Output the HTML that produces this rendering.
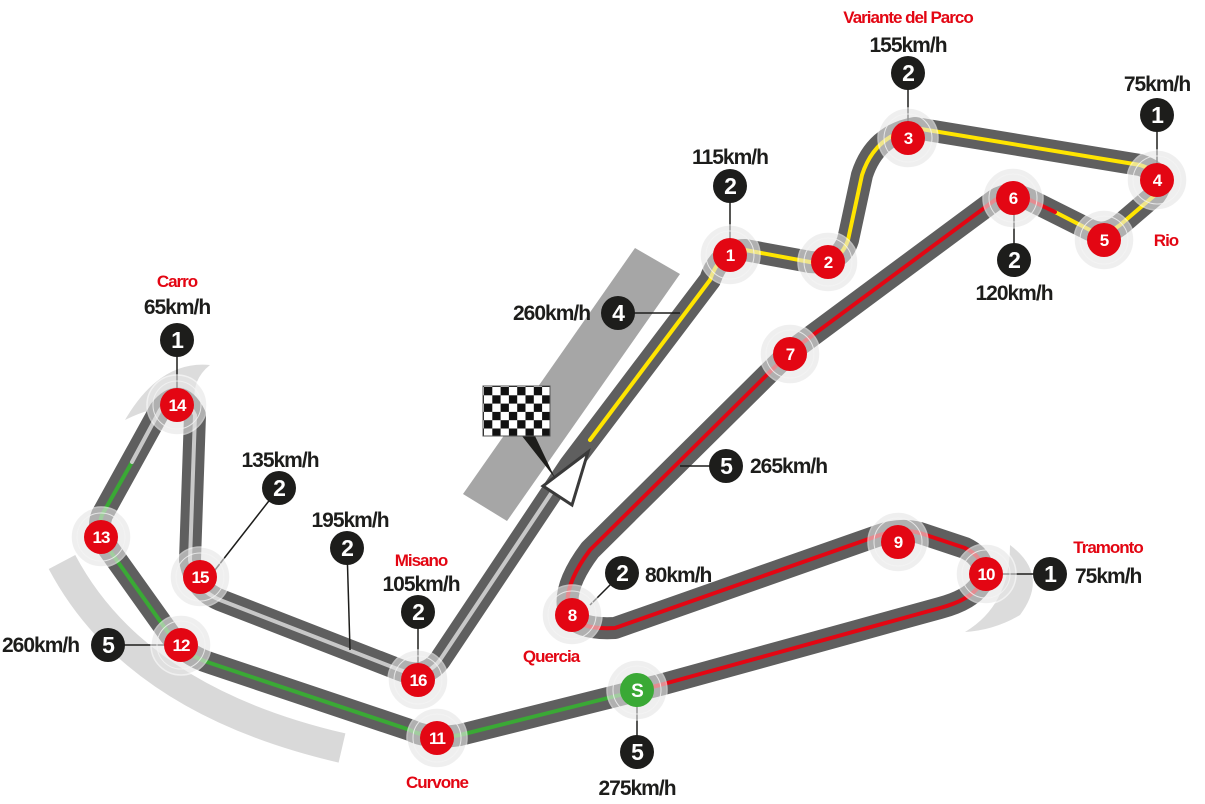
<!DOCTYPE html>
<html><head><meta charset="utf-8"><style>
html,body{margin:0;padding:0;background:#fff;}
svg{display:block;}
text{font-family:"Liberation Sans",sans-serif;font-weight:bold;letter-spacing:-1px;}
.lb{font-size:21px;fill:#1d1d1b;}
.rl{font-size:17px;fill:#e30613;}
.nt{font-size:17px;fill:#fff;text-anchor:middle;}
.gt{font-size:23px;fill:#fff;text-anchor:middle;}
</style></head><body>
<svg width="1205" height="804" viewBox="0 0 1205 804" xmlns="http://www.w3.org/2000/svg">
<defs>
<pattern id="chk" x="484" y="387" width="16.6" height="16.6" patternUnits="userSpaceOnUse">
<rect width="16.6" height="16.6" fill="#fff"/>
<rect width="8.3" height="8.3" fill="#111"/>
<rect x="8.3" y="8.3" width="8.3" height="8.3" fill="#111"/>
</pattern>
</defs>
<polygon points="635,248 680,274 507,521 463,494" fill="#a6a6a6"/>
<path d="M62 562 Q135 700 342 748" stroke="#d9d9d9" stroke-width="30" fill="none"/>
<path d="M125 420 Q160 360 210 365 Q185 385 200 420 Q175 395 125 420Z" fill="#dcdcdc"/>
<path d="M1010 545 Q1050 575 1020 615 Q995 630 965 632 Q1010 605 1010 545Z" fill="#dcdcdc"/>
<g fill="none" stroke-linejoin="round" stroke-linecap="round">
<path d="M570 465 L710 280 Q720 250 745 250 L810 262 Q840 265 848 240 L862 175 Q875 135 915 128 L1140 165 Q1170 175 1155 195 L1120 225 Q1105 237 1090 230 L1030 200 Q1010 190 995 200 L790 352 L590 550 Q560 590 570 615 Q580 630 615 628 L880 535 Q900 528 920 533 L965 548 Q990 560 980 585 Q970 600 940 608 L660 685 L460 735 Q430 740 410 730 L210 663 Q185 655 170 635 L108 548 Q96 530 102 515 L160 410 Q180 385 195 415 L190 560 Q195 590 220 600 L400 670 Q425 680 440 660 L570 465" stroke="#5f5f5f" stroke-width="22"/>
<path d="M590 440 L710 280 Q720 250 745 250 L810 262 Q840 265 848 240 L862 175 Q875 135 915 128 L1140 165 Q1170 175 1155 195 L1120 225 Q1105 237 1090 230 L1055 212" stroke="#ffe500" stroke-width="4"/>
<path d="M1055 212 L1030 200 Q1010 190 995 200 L790 352 L590 550 Q560 590 570 615 Q580 630 615 628 L880 535 Q900 528 920 533 L965 548 Q990 560 980 585 Q970 600 940 608 L660 685 L640 690" stroke="#e30613" stroke-width="4"/>
<path d="M640 690 L460 735 Q430 740 410 730 L210 663 Q185 655 170 635 L108 548 Q96 530 102 515 L132 462" stroke="#3aa935" stroke-width="4"/>
<path d="M132 462 L160 410 Q180 385 195 415 L190 560 Q195 590 220 600 L400 670 Q425 680 440 660 L560 480" stroke="#c8c8c8" stroke-width="4"/>
</g>
<polygon points="588,452 572,505 543,486" fill="#fff" stroke="#3a3a3a" stroke-width="3"/>
<polygon points="522,436 535,436 555,478" fill="#1d1d1b"/>
<rect x="483" y="386" width="67" height="50" fill="url(#chk)" stroke="#555" stroke-width="1"/>
<g stroke="#1d1d1b" stroke-width="1.5">
<line x1="177" y1="340" x2="177" y2="390"/><line x1="908" y1="73" x2="908" y2="125"/>
<line x1="1157" y1="115" x2="1157" y2="166"/><line x1="730" y1="186" x2="730" y2="240"/>
<line x1="1014" y1="260" x2="1014" y2="212"/><line x1="618" y1="313" x2="680" y2="313"/>
<line x1="726" y1="466" x2="680" y2="466"/><line x1="622" y1="573" x2="590" y2="605"/>
<line x1="279" y1="488" x2="215" y2="570"/><line x1="347" y1="548" x2="350" y2="650"/>
<line x1="418" y1="612" x2="418" y2="665"/><line x1="1050" y1="574" x2="1003" y2="574"/>
<line x1="108" y1="645" x2="166" y2="645"/><line x1="637" y1="752" x2="637" y2="706"/>
</g>
<g>
<g fill="#e6e6e6" opacity="0.6" stroke="#fff" stroke-width="1.5">
<circle cx="730" cy="255" r="30"/><circle cx="828" cy="262" r="30"/><circle cx="908" cy="138" r="30"/><circle cx="1157" cy="180" r="30"/><circle cx="1104" cy="240" r="30"/><circle cx="1013" cy="198" r="30"/><circle cx="790" cy="354" r="30"/><circle cx="572" cy="615" r="30"/><circle cx="898" cy="542" r="30"/><circle cx="986" cy="574" r="30"/><circle cx="637" cy="690" r="30"/><circle cx="437" cy="738" r="30"/><circle cx="181" cy="645" r="30"/><circle cx="101" cy="537" r="30"/><circle cx="177" cy="405" r="30"/><circle cx="200" cy="577" r="30"/><circle cx="418" cy="680" r="30"/>
</g>
<g fill="none" stroke="#f4f4f4" stroke-width="1" opacity="0.8">
<circle cx="730" cy="255" r="24"/><circle cx="828" cy="262" r="24"/><circle cx="908" cy="138" r="24"/><circle cx="1157" cy="180" r="24"/><circle cx="1104" cy="240" r="24"/><circle cx="1013" cy="198" r="24"/><circle cx="790" cy="354" r="24"/><circle cx="572" cy="615" r="24"/><circle cx="898" cy="542" r="24"/><circle cx="986" cy="574" r="24"/><circle cx="637" cy="690" r="24"/><circle cx="437" cy="738" r="24"/><circle cx="181" cy="645" r="24"/><circle cx="101" cy="537" r="24"/><circle cx="177" cy="405" r="24"/><circle cx="200" cy="577" r="24"/><circle cx="418" cy="680" r="24"/>
</g>
<g fill="#e30613">
<circle cx="730" cy="255" r="17"/><circle cx="828" cy="262" r="17"/><circle cx="908" cy="138" r="17"/><circle cx="1157" cy="180" r="17"/><circle cx="1104" cy="240" r="17"/><circle cx="1013" cy="198" r="17"/><circle cx="790" cy="354" r="17"/><circle cx="572" cy="615" r="17"/><circle cx="898" cy="542" r="17"/><circle cx="986" cy="574" r="17"/><circle cx="437" cy="738" r="17"/><circle cx="181" cy="645" r="17"/><circle cx="101" cy="537" r="17"/><circle cx="177" cy="405" r="17"/><circle cx="200" cy="577" r="17"/><circle cx="418" cy="680" r="17"/>
</g>
<circle cx="637" cy="690" r="17" fill="#3aa935"/>
<text class="nt" x="730" y="261">1</text><text class="nt" x="828" y="268">2</text><text class="nt" x="908" y="144">3</text><text class="nt" x="1157" y="186">4</text><text class="nt" x="1104" y="246">5</text><text class="nt" x="1013" y="204">6</text><text class="nt" x="790" y="360">7</text><text class="nt" x="572" y="621">8</text><text class="nt" x="898" y="548">9</text><text class="nt" x="986" y="580">10</text><text class="nt" x="637" y="697" style="font-size:19px">S</text><text class="nt" x="437" y="744">11</text><text class="nt" x="181" y="651">12</text><text class="nt" x="101" y="543">13</text><text class="nt" x="177" y="411">14</text><text class="nt" x="200" y="583">15</text><text class="nt" x="418" y="686">16</text>
</g>
<g fill="#1d1d1b">
<circle cx="177" cy="340" r="17"/><circle cx="908" cy="73" r="17"/><circle cx="1157" cy="115" r="17"/><circle cx="730" cy="186" r="17"/><circle cx="1014" cy="260" r="17"/><circle cx="618" cy="313" r="17"/><circle cx="726" cy="466" r="17"/><circle cx="622" cy="573" r="17"/><circle cx="279" cy="488" r="17"/><circle cx="347" cy="548" r="17"/><circle cx="418" cy="612" r="17"/><circle cx="1050" cy="574" r="17"/><circle cx="108" cy="645" r="17"/><circle cx="637" cy="752" r="17"/>
</g>
<text class="gt" x="177" y="348">1</text><text class="gt" x="908" y="81">2</text><text class="gt" x="1157" y="123">1</text><text class="gt" x="730" y="194">2</text><text class="gt" x="1014" y="268">2</text><text class="gt" x="618" y="321">4</text><text class="gt" x="726" y="474">5</text><text class="gt" x="622" y="581">2</text><text class="gt" x="279" y="496">2</text><text class="gt" x="347" y="556">2</text><text class="gt" x="418" y="620">2</text><text class="gt" x="1050" y="582">1</text><text class="gt" x="108" y="653">5</text><text class="gt" x="637" y="760">5</text>
<g class="lb" text-anchor="middle">
<text x="908" y="52">155km/h</text><text x="1157" y="91">75km/h</text><text x="730" y="164">115km/h</text><text x="1014" y="300">120km/h</text><text x="421" y="591">105km/h</text><text x="350" y="527">195km/h</text><text x="280" y="467">135km/h</text><text x="177" y="314">65km/h</text><text x="637" y="795">275km/h</text>
</g>
<g class="lb">
<text x="513" y="320">260km/h</text><text x="750" y="473">265km/h</text><text x="645" y="582">80km/h</text><text x="1075" y="583">75km/h</text><text x="2" y="652">260km/h</text>
</g>
<g class="rl" text-anchor="middle">
<text x="908" y="23">Variante del Parco</text><text x="1166" y="246">Rio</text><text x="1108" y="553">Tramonto</text><text x="551" y="662">Quercia</text><text x="421" y="566">Misano</text><text x="177" y="287">Carro</text><text x="437" y="788">Curvone</text>
</g>
</svg>
</body></html>
